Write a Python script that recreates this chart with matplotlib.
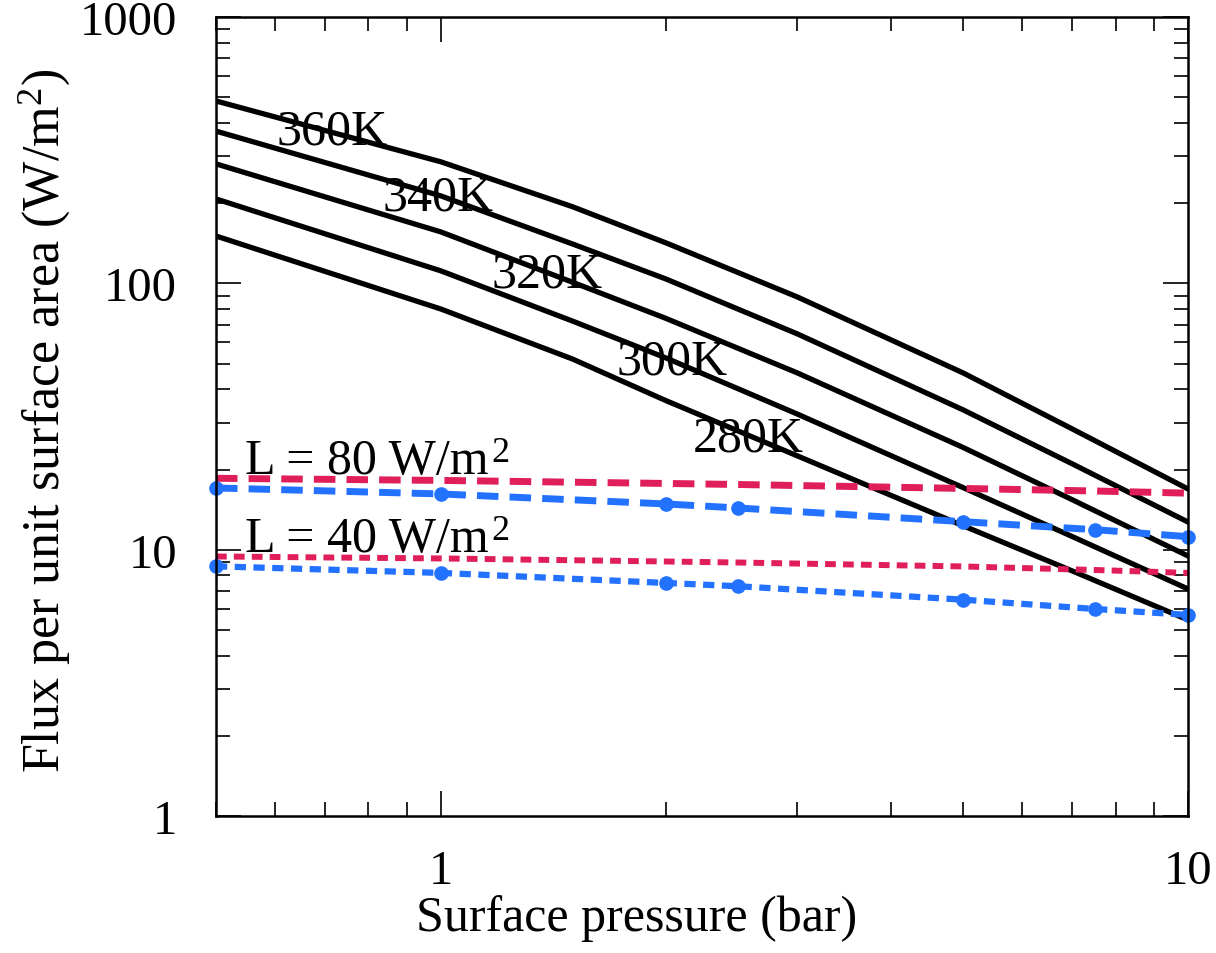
import matplotlib
matplotlib.use("Agg")
import matplotlib.pyplot as plt
import matplotlib.ticker as mticker
import numpy as np

plt.rcParams['font.family'] = ['Liberation Serif', 'DejaVu Serif']
plt.rcParams['mathtext.fontset'] = 'custom'
plt.rcParams['mathtext.rm'] = 'Liberation Serif'
plt.rcParams['mathtext.it'] = 'Liberation Serif:italic'

# surface pressure (bar) for the black curves
p_black = [0.5, 1, 1.5, 2, 3, 5, 7, 10]
flux_360 = [484, 286, 194, 142, 88.9, 46.1, 28.4, 16.9]
flux_340 = [373, 213, 140.6, 103.9, 64.6, 33.5, 21.0, 12.7]
flux_320 = [281, 156, 101, 73.9, 46.1, 24.2, 15.4, 9.47]
flux_300 = [207.5, 111.4, 72.2, 52.5, 32.3, 17.1, 11.2, 7.12]
flux_280 = [150.6, 80.1, 52.0, 36.3, 22.5, 12.3, 8.32, 5.45]

# coloured curves
p_col = [0.5, 1, 2, 2.5, 5, 7.5, 10]
red_80 = [18.54, 18.2, 17.73, 17.57, 16.98, 16.61, 16.3]
blue_80 = [17.05, 16.19, 14.85, 14.34, 12.74, 11.89, 11.19]
red_40 = [9.43, 9.27, 9.03, 8.95, 8.65, 8.39, 8.18]
blue_40 = [8.66, 8.18, 7.50, 7.29, 6.49, 5.99, 5.69]

temps = ["360K", "340K", "320K", "300K", "280K"]
temp_lab_x = [0.603, 0.836, 1.17, 1.72, 2.175]
temp_lab_y = [333.7, 190, 97, 45.7, 23.5]

RED = '#E01E5A'
BLUE = '#2272FF'

fig = plt.figure(figsize=(12.16, 9.54), dpi=100)
ax = fig.add_axes([0.1776, 0.1436, 0.7994, 0.8375])

for f in [flux_360, flux_340, flux_320, flux_300, flux_280]:
    ax.plot(p_black, f, color='black', lw=3.8)

ax.plot(p_col, red_80, color=RED, lw=5, linestyle=(0, (3.1, 1.6)))
ax.plot(p_col, blue_80, color=BLUE, lw=5, linestyle=(0, (3.1, 1.6)),
        marker='o', ms=9.5, clip_on=False)
ax.plot(p_col, red_40, color=RED, lw=4.3, linestyle=(0, (1.8, 1.2)))
ax.plot(p_col, blue_40, color=BLUE, lw=4.5, linestyle=(0, (1.8, 1.2)),
        marker='o', ms=9.5, clip_on=False)

for t, tx, ty in zip(temps, temp_lab_x, temp_lab_y):
    ax.text(tx, ty, t, fontsize=36, ha='left', va='baseline')

ax.text(0.547, 19.4, 'L = 80 W/m', fontsize=36, ha='left', va='baseline')
ax.text(0.547, 9.89, 'L = 40 W/m', fontsize=36, ha='left', va='baseline')
# raised superscripts, drawn the way the original plotting program did
ax.text(1.17, 21.5, '2', fontsize=26, ha='left', va='baseline')
ax.text(1.17, 10.97, '2', fontsize=26, ha='left', va='baseline')

ax.set_xscale('log')
ax.set_yscale('log')
ax.set_xlim(0.5, 10)
ax.set_ylim(1, 1000)

fmt = mticker.FuncFormatter(lambda v, pos: '%g' % v)
ax.xaxis.set_major_locator(mticker.FixedLocator([1, 10]))
ax.xaxis.set_major_formatter(fmt)
ax.xaxis.set_minor_locator(mticker.LogLocator(base=10, subs=np.arange(2, 10)))
ax.xaxis.set_minor_formatter(mticker.NullFormatter())
ax.yaxis.set_major_locator(mticker.FixedLocator([1, 10, 100, 1000]))
ax.yaxis.set_major_formatter(fmt)
ax.yaxis.set_minor_locator(mticker.LogLocator(base=10, subs=np.arange(2, 10)))
ax.yaxis.set_minor_formatter(mticker.NullFormatter())

ax.tick_params(which='both', direction='in', top=True, right=True, width=1.2)
ax.tick_params(which='major', length=18, labelsize=35)
ax.tick_params(which='minor', length=10)
ax.tick_params(axis='y', which='major', pad=28)
ax.tick_params(axis='x', which='major', pad=24)

for s in ax.spines.values():
    s.set_linewidth(1.8)

ax.set_xlabel('Surface pressure (bar)', fontsize=36)
ax.xaxis.set_label_coords(0.4326, -0.098)
ax.set_ylabel(r'Flux per unit surface area (W/m$^{2}$)', fontsize=37.5)
ax.yaxis.set_label_coords(-0.148, 0.496)

fig.savefig('out.png', dpi=100)
